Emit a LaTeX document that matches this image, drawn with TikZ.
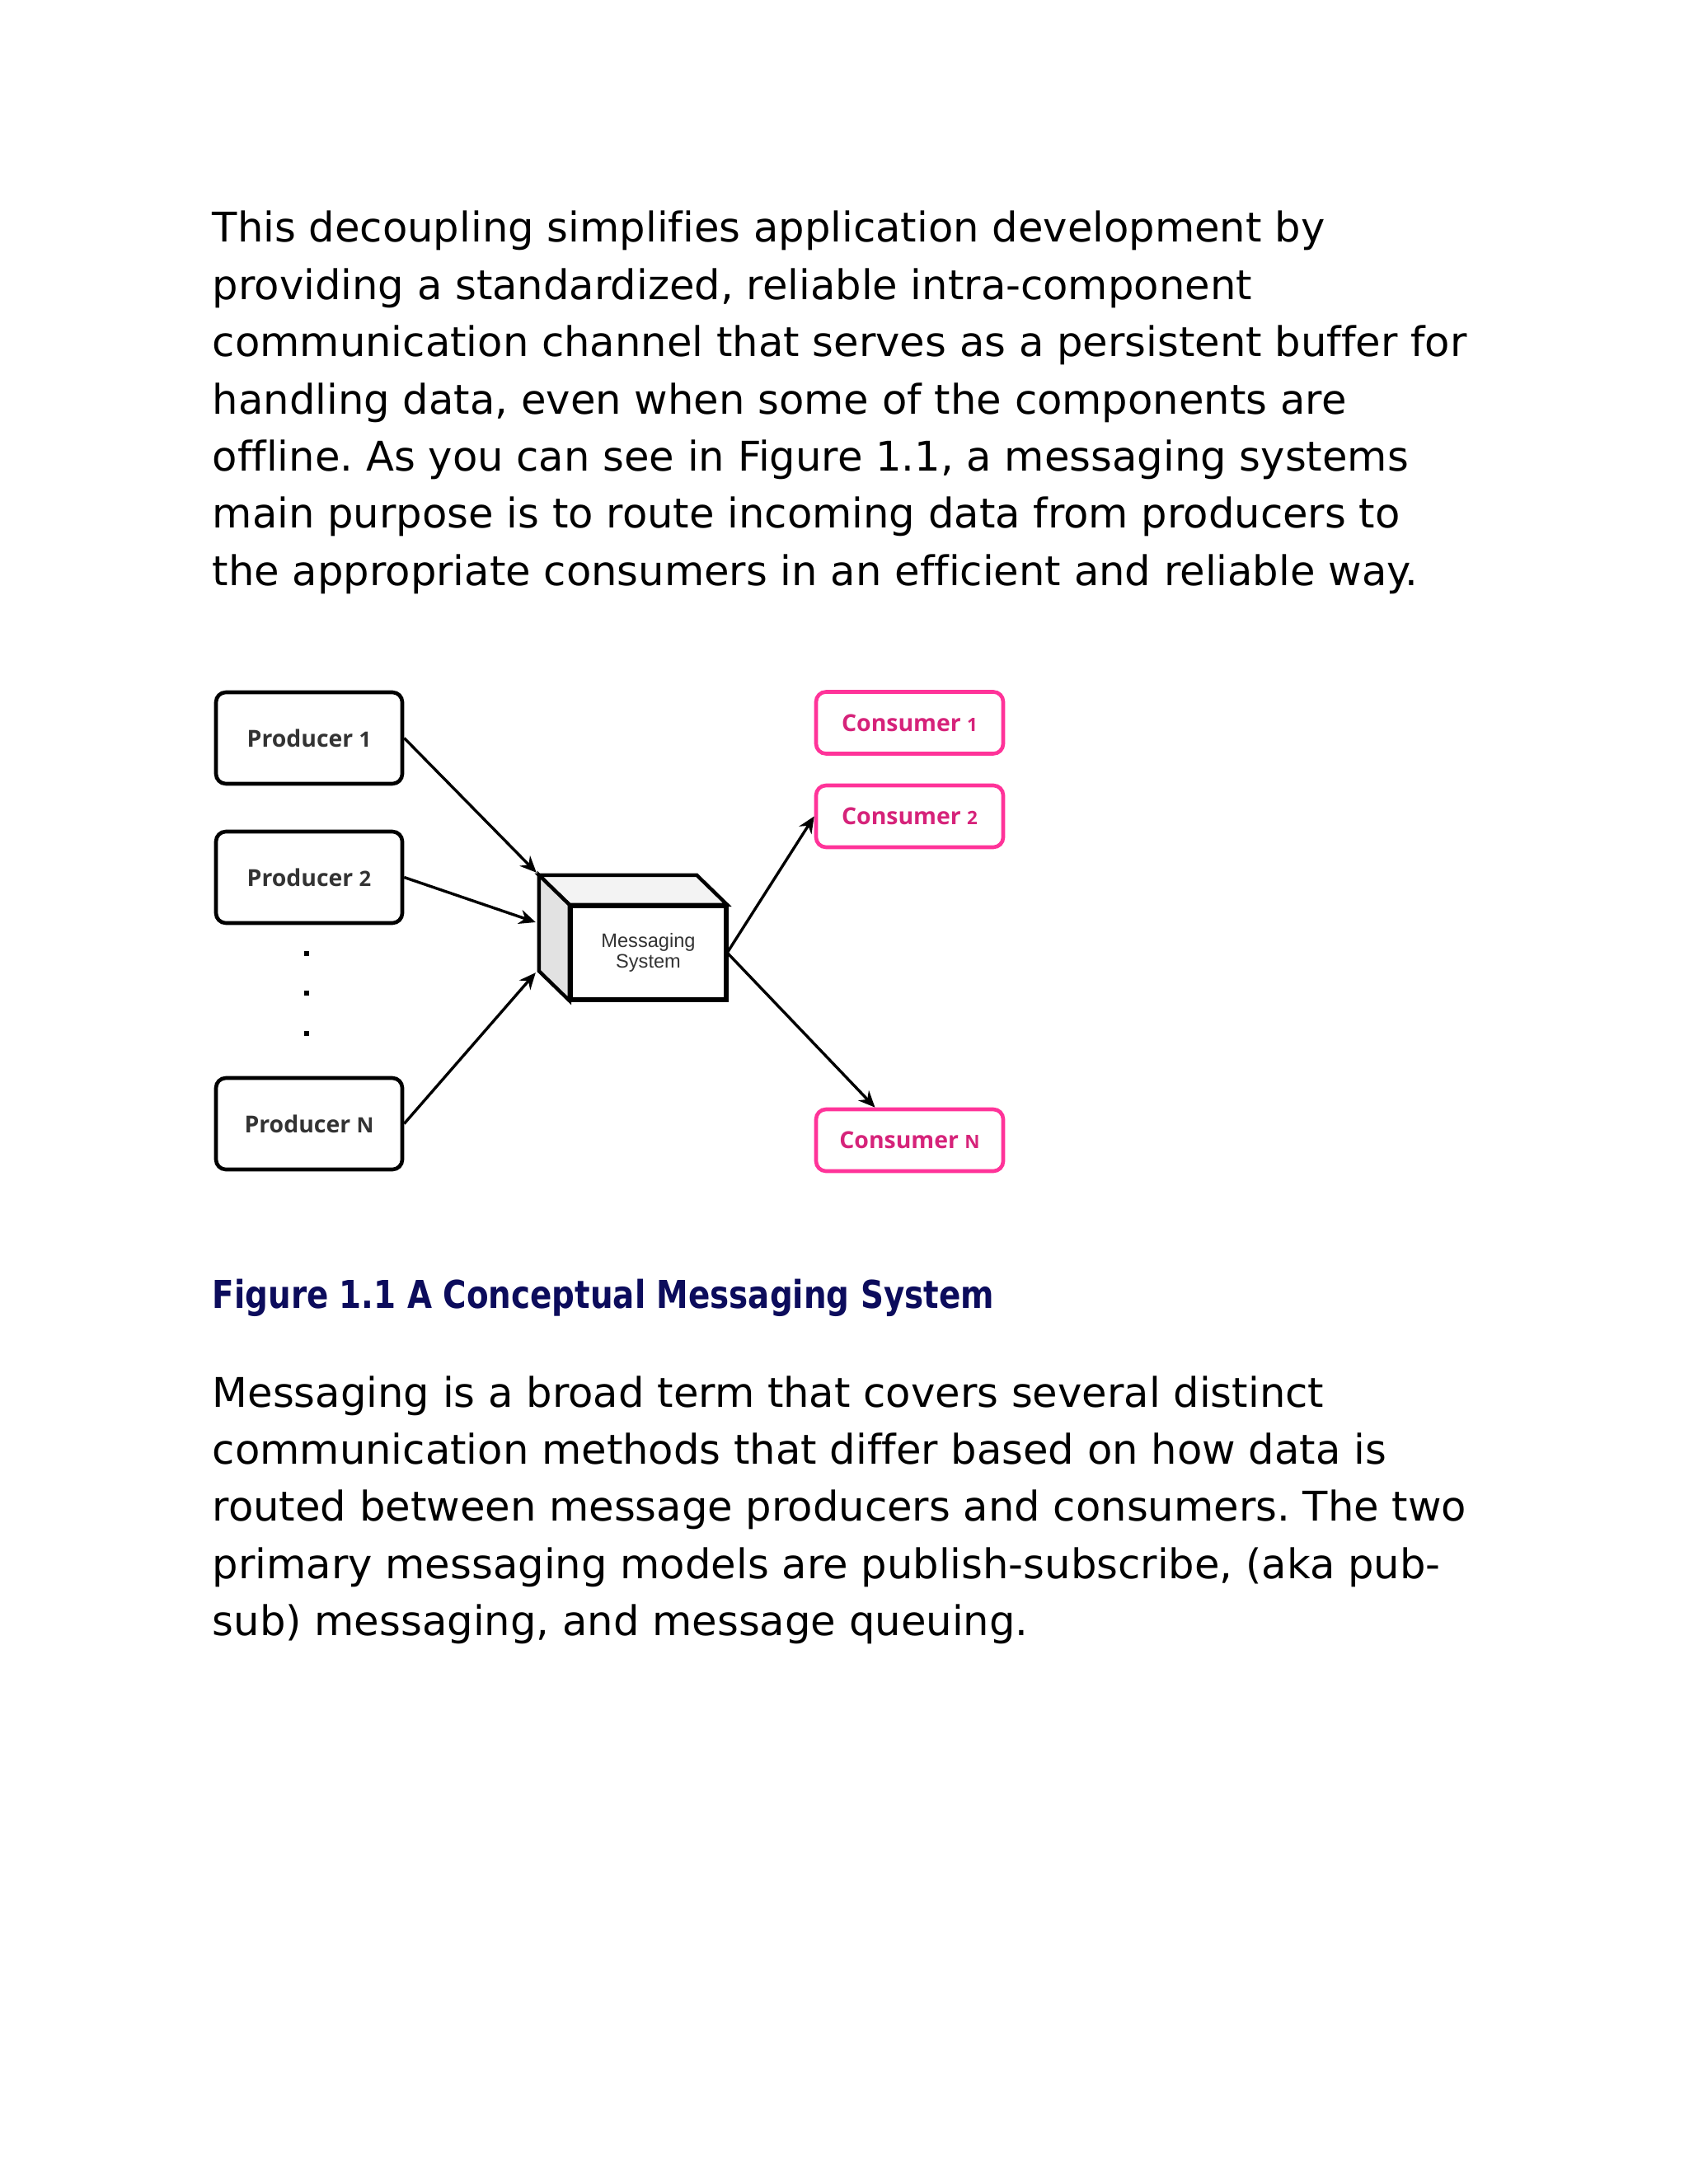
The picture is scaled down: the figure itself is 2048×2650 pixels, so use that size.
\documentclass[tikz,border=0pt]{standalone}
\usepackage{fontspec}
\usepackage{graphicx}
\setmainfont{DejaVu Sans}[Ligatures=NoCommon]
\newfontfamily\capfont{DejaVu Sans}[Ligatures=NoCommon]
\newfontfamily\boxfont{Open Sans}
\newfontfamily\msfont{Liberation Sans}
\usetikzlibrary{arrows.meta,calc}
\frenchspacing
\definecolor{pinkline}{RGB}{255,51,153}
\definecolor{pinktext}{RGB}{214,35,122}
\definecolor{navy}{RGB}{12,12,92}
\definecolor{boxtext}{RGB}{51,51,51}
\definecolor{topface}{RGB}{243,243,243}
\definecolor{sideface}{RGB}{226,226,226}
\tikzset{
  bodyline/.style={anchor=base west, inner sep=0pt, font=\fontsize{12.4pt}{14pt}\selectfont},
  prodbox/.style={draw=black, line width=1.15pt, rounded corners=3pt, minimum width=56.5pt,
    minimum height=27.75pt, inner sep=0pt, text=boxtext,
    font=\boxfont\bfseries\fontsize{7.1pt}{8pt}\selectfont},
  consbox/.style={draw=pinkline, line width=1.15pt, rounded corners=3pt, minimum width=56.75pt,
    minimum height=18.75pt, inner sep=0pt, text=pinktext,
    font=\boxfont\bfseries\fontsize{7.1pt}{8pt}\selectfont},
  msface/.style={draw=black, line width=1.1pt, fill=white, minimum width=46.75pt,
    minimum height=28pt, inner sep=0pt, align=center, text=boxtext,
    font=\msfont\fontsize{5.9pt}{6.2pt}\selectfont},
  flow/.style={-{Stealth[length=5pt,width=4.4pt]}, line width=0.85pt, black},
  dotmark/.style={rectangle, fill=black, inner sep=0pt, minimum size=1.6pt}
}
\newcommand{\psfx}[1]{{\fontsize{6.4pt}{7pt}\selectfont #1}}
\newcommand{\csfx}[1]{{\fontsize{5.6pt}{6pt}\selectfont #1}}
\begin{document}
\begin{tikzpicture}[x=0.25pt,y=-0.25pt]
\fill[white] (0,0) rectangle (2048,2650);
\useasboundingbox (0,0) rectangle (2048,2650);

% paragraph 1
\node[bodyline] (a1) at (257,294) {This decoupling simplifies application development by};
\node[bodyline] (a2) at (257,363.4) {providing a standardized, reliable intra-component};
\node[bodyline] (a3) at (257,432.8) {communication channel that serves as a persistent buffer for};
\node[bodyline] (a4) at (257,502.2) {handling data, even when some of the components are};
\node[bodyline] (a5) at (257,571.6) {offline. As you can see in Figure 1.1, a messaging systems};
\node[bodyline] (a6) at (257,641) {main purpose is to route incoming data from producers to};
\node[bodyline] (a7) at (257,710.4) {the appropriate consumers in an efficient and reliable way.};

% producers
\node[prodbox] (p1) at (375,895.5) {Producer \psfx{1}\hspace{1.5pt}};
\node[prodbox] (p2) at (375,1064.5) {Producer \psfx{2}\hspace{1.5pt}};
\node[prodbox] (pN) at (375,1363.5) {Producer \psfx{N}\hspace{1.5pt}};
\node[dotmark] (d1) at (372,1157) {};
\node[dotmark] (d2) at (372,1205) {};
\node[dotmark] (d3) at (372,1254) {};

% consumers
\node[consbox] (c1) at (1103.5,877) {Consumer \csfx{1}\hspace{3pt}};
\node[consbox] (c2) at (1103.5,990.5) {Consumer \csfx{2}\hspace{3pt}};
\node[consbox] (cN) at (1103.5,1383.5) {Consumer \csfx{N}\hspace{3pt}};

% messaging system cube
\node[msface] (ms) at (786.5,1156) {Messaging\\System};
\filldraw[fill=topface, draw=black, line width=1.1pt, line join=miter]
  (ms.north west) -- ($(ms.north west)+(-37,-36)$) -- ($(ms.north east)+(-37,-36)$) -- (ms.north east) -- cycle;
\filldraw[fill=sideface, draw=black, line width=1.1pt, line join=miter]
  (ms.north west) -- ($(ms.north west)+(-37,-36)$) -- ($(ms.south west)+(-37,-36)$) -- (ms.south west) -- cycle;
\draw[line width=1.1pt] (ms.north west) rectangle (ms.south east);

\coordinate (in1) at ($(ms.north west)+(-40,-39)$);
\coordinate (in2) at ($(ms.west)+(-41,-37)$);
\coordinate (in3) at ($(ms.south west)+(-41,-34)$);
\coordinate (cNtop) at ($(cN.north)+(-42,0)$);

\draw[flow] (p1.east) -- (in1);
\draw[flow] (p2.east) -- (in2);
\draw[flow] (pN.east) -- (in3);
\draw[flow] (ms.east) -- (c2.west);
\draw[flow] (ms.east) -- (cNtop);

% caption
\node[anchor=base west, inner sep=0pt, text=navy] (cap) at (257,1587)
  {\resizebox{237pt}{\height}{\capfont\bfseries\fontsize{11.65pt}{13pt}\selectfont Figure 1.1 A Conceptual Messaging System}};

% paragraph 2
\node[bodyline] (b1) at (257,1707) {Messaging is a broad term that covers several distinct};
\node[bodyline] (b2) at (257,1776.4) {communication methods that differ based on how data is};
\node[bodyline] (b3) at (257,1845.8) {routed between message producers and consumers. The two};
\node[bodyline] (b4) at (257,1915.2) {primary messaging models are publish-subscribe, (aka pub-};
\node[bodyline] (b5) at (257,1984.6) {sub) messaging, and message queuing.};
\end{tikzpicture}
\end{document}
